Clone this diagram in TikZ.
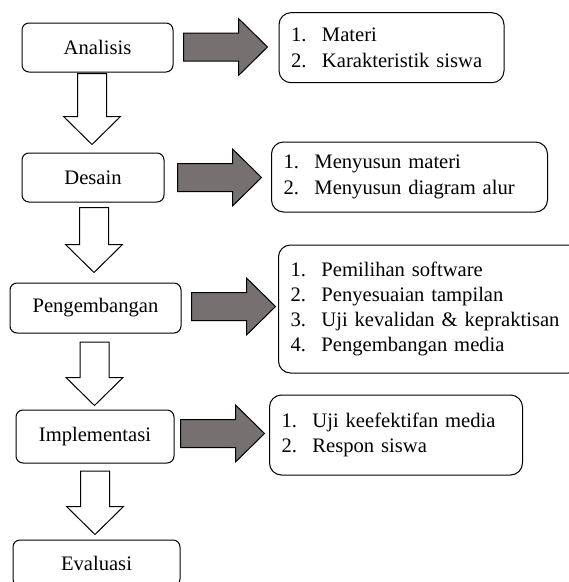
\documentclass[tikz,border=0pt]{standalone}
\usepackage{fontspec}
\setmainfont{Liberation Serif}
\usepackage{tikz}
\usetikzlibrary{calc}
\usetikzlibrary{shapes}
\definecolor{panahabu}{RGB}{118,113,112}
\tikzset{
  tahap/.style={draw, line width=1pt, rounded corners=7pt, align=center, inner sep=0pt},
  rincian/.style={draw, line width=1pt, rounded corners=12pt, align=left, inner xsep=12pt, inner ysep=0pt, anchor=west},
  panah/.style={draw, line width=1pt, line join=miter, fill=panahabu},
  turun/.style={draw, line width=1pt, line join=miter, fill=white}
}
\newcommand{\nomor}[1]{\makebox[31pt][l]{#1}}
% panah blok ke kanan dari ekornya, panah blok ke bawah dari pangkalnya
\newcommand{\panahkanan}[1]{\draw[panah] (#1) ++(0,-14) -- ++(55,0) -- ++(0,-14.5) -- ++(29,28.5)
  -- ++(-29,28.5) -- ++(0,-14.5) -- ++(-55,0) -- cycle;}
\newcommand{\panahbawah}[2]{\draw[turun] (#1) ++(-14.5,0) -- ++(0,#2-28) -- ++(-14,0) -- ++(28.5,28)
  -- ++(28.5,-28) -- ++(-14,0) -- ++(0,28-#2) -- cycle;}

\begin{document}
\begin{tikzpicture}[x=1pt, y=-1pt, font=\fontsize{20.6}{25.3}\selectfont]
  \useasboundingbox (0,0) rectangle (569,582);
  % tahapan
  \node[tahap, minimum width=151pt, minimum height=49pt] (analisis) at (97.5,47.5) {Analisis};
  \node[tahap, minimum width=142pt, minimum height=49pt] (desain) at (93,177.5) {Desain};
  \node[tahap, minimum width=171pt, minimum height=50pt] (pengembangan) at (95.5,308) {Pengembangan};
  \node[tahap, minimum width=158pt, minimum height=53pt] (implementasi) at (95,436.5) {Implementasi};
  \node[tahap, minimum width=167pt, minimum height=46pt] (evaluasi) at (96.5,563) {Evaluasi};
  % rincian tiap tahap
  \node[rincian, text width=201pt, minimum height=70pt] (rincianA) at (278.5,47.7)
    {\nomor{1.}Materi\\ \nomor{2.}Karakteristik siswa};
  \node[rincian, text width=252pt, minimum height=70pt] (rincianD) at (271,177)
    {\nomor{1.}Menyusun materi\\ \nomor{2.}Menyusun diagram alur};
  \node[rincian, text width=278pt, minimum height=128pt] (rincianP) at (278,309)
    {\nomor{1.}Pemilihan software\\ \nomor{2.}Penyesuaian tampilan\\
     \nomor{3.}Uji kevalidan \& kepraktisan\\ \nomor{4.}Pengembangan media};
  \node[rincian, text width=229pt, minimum height=80pt] (rincianI) at (269,435)
    {\nomor{1.}Uji keefektifan media\\ \nomor{2.}Respon siswa};
  % panah ke kanan
  \coordinate (ekorA) at ($(analisis.east)+(10,-0.5)$);
  \coordinate (ekorD) at ($(desain.east)+(13,0)$);
  \coordinate (ekorP) at ($(pengembangan.east)+(10,-1.5)$);
  \coordinate (ekorI) at ($(implementasi.east)+(6,-3)$);
  \panahkanan{ekorA}
  \panahkanan{ekorD}
  \panahkanan{ekorP}
  \panahkanan{ekorI}
  % panah ke bawah
  \coordinate (pangkalA) at ($(analisis.south)+(-5.5,1)$);
  \coordinate (pangkalD) at ($(desain.south)+(1,5)$);
  \coordinate (pangkalP) at ($(pengembangan.south)+(-1,8.5)$);
  \coordinate (pangkalI) at ($(implementasi.south)+(0,7.5)$);
  \panahbawah{pangkalA}{71}
  \panahbawah{pangkalD}{65}
  \panahbawah{pangkalP}{63.5}
  \panahbawah{pangkalI}{63.5}
\end{tikzpicture}
\end{document}
